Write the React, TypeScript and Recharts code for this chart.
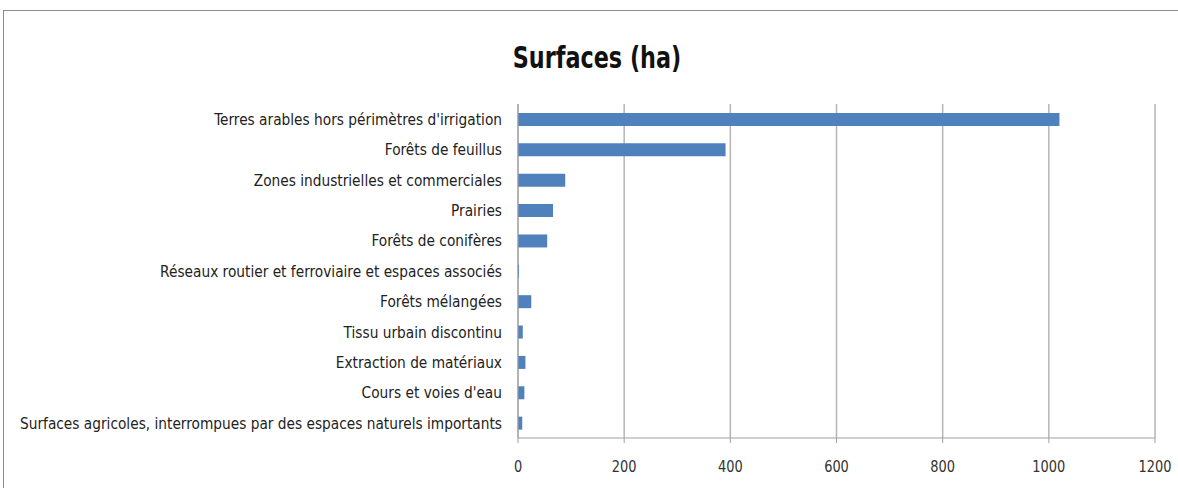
import React from "react";
import { BarChart, Bar, XAxis, YAxis, CartesianGrid } from "recharts";

// Surfaces par type d'occupation du sol (ha)
const categories = [
  "Terres arables hors périmètres d'irrigation",
  "Forêts de feuillus",
  "Zones industrielles et commerciales",
  "Prairies",
  "Forêts de conifères",
  "Réseaux routier et ferroviaire et espaces associés",
  "Forêts mélangées",
  "Tissu urbain discontinu",
  "Extraction de matériaux",
  "Cours et voies d'eau",
  "Surfaces agricoles, interrompues par des espaces naturels importants",
];
const surfaces = [1020, 391, 89, 66, 55, 2, 25, 9, 14, 12, 8];
const xTicks = [0, 200, 400, 600, 800, 1000, 1200];

const data = categories.map((name, i) => ({ name, value: surfaces[i] }));

const FONT = "'DejaVu Sans Condensed', 'DejaVu Sans', sans-serif";

// libellé de catégorie un peu resserré (aspect Calibri)
function CategoryTick({ x, y, payload }: any) {
  return (
    <text
      transform={`translate(${x},${y}) scale(0.92,1)`}
      textAnchor="end"
      dy="0.35em"
      fill="#222"
      fontSize={16.6}
      fontFamily={FONT}
    >
      {payload.value}
    </text>
  );
}

function ValueTick({ x, y, payload }: any) {
  return (
    <text
      transform={`translate(${x},${y}) scale(0.9,1)`}
      textAnchor="middle"
      dy="0.71em"
      fill="#333"
      fontSize={16}
      fontFamily={FONT}
    >
      {payload.value}
    </text>
  );
}

export default function App() {
  return (
    <div
      style={{
        position: "fixed",
        left: 0,
        top: 0,
        width: 1178,
        height: 488,
        background: "#fff",
        overflow: "hidden",
        fontFamily: FONT,
      }}
    >
      {/* cadre gris autour du graphique */}
      <div
        style={{
          position: "absolute",
          left: 3,
          top: 10,
          width: 1190,
          height: 500,
          border: "1.5px solid #8c8c8c",
          boxSizing: "border-box",
        }}
      />
      <div
        style={{
          position: "absolute",
          left: 0,
          top: 37,
          width: 1194,
          textAlign: "center",
          fontSize: 31,
          fontWeight: "bold",
          color: "#111",
          lineHeight: "40px",
          transform: "scaleX(0.8)",
          transformOrigin: "597px 0",
        }}
      >
        Surfaces (ha)
      </div>
      <BarChart
        width={1178}
        height={488}
        data={data}
        layout="vertical"
        margin={{ top: 104, right: 23, bottom: 0, left: 0 }}
        style={{ position: "absolute", left: 0, top: 0 }}
      >
        <CartesianGrid horizontal={false} stroke="#b5b5b5" strokeWidth={1.5} />
        <XAxis
          type="number"
          domain={[0, 1200]}
          ticks={xTicks}
          height={50}
          stroke="#a0a0a0"
          tickSize={5}
          tickMargin={18}
          tick={<ValueTick />}
        />
        <YAxis
          type="category"
          dataKey="name"
          width={518}
          stroke="#a0a0a0"
          tickLine={false}
          tickSize={6}
          tickMargin={10}
          interval={0}
          tick={<CategoryTick />}
        />
        <Bar dataKey="value" fill="#4f81bd" barSize={13} isAnimationActive={false} />
      </BarChart>
    </div>
  );
}
